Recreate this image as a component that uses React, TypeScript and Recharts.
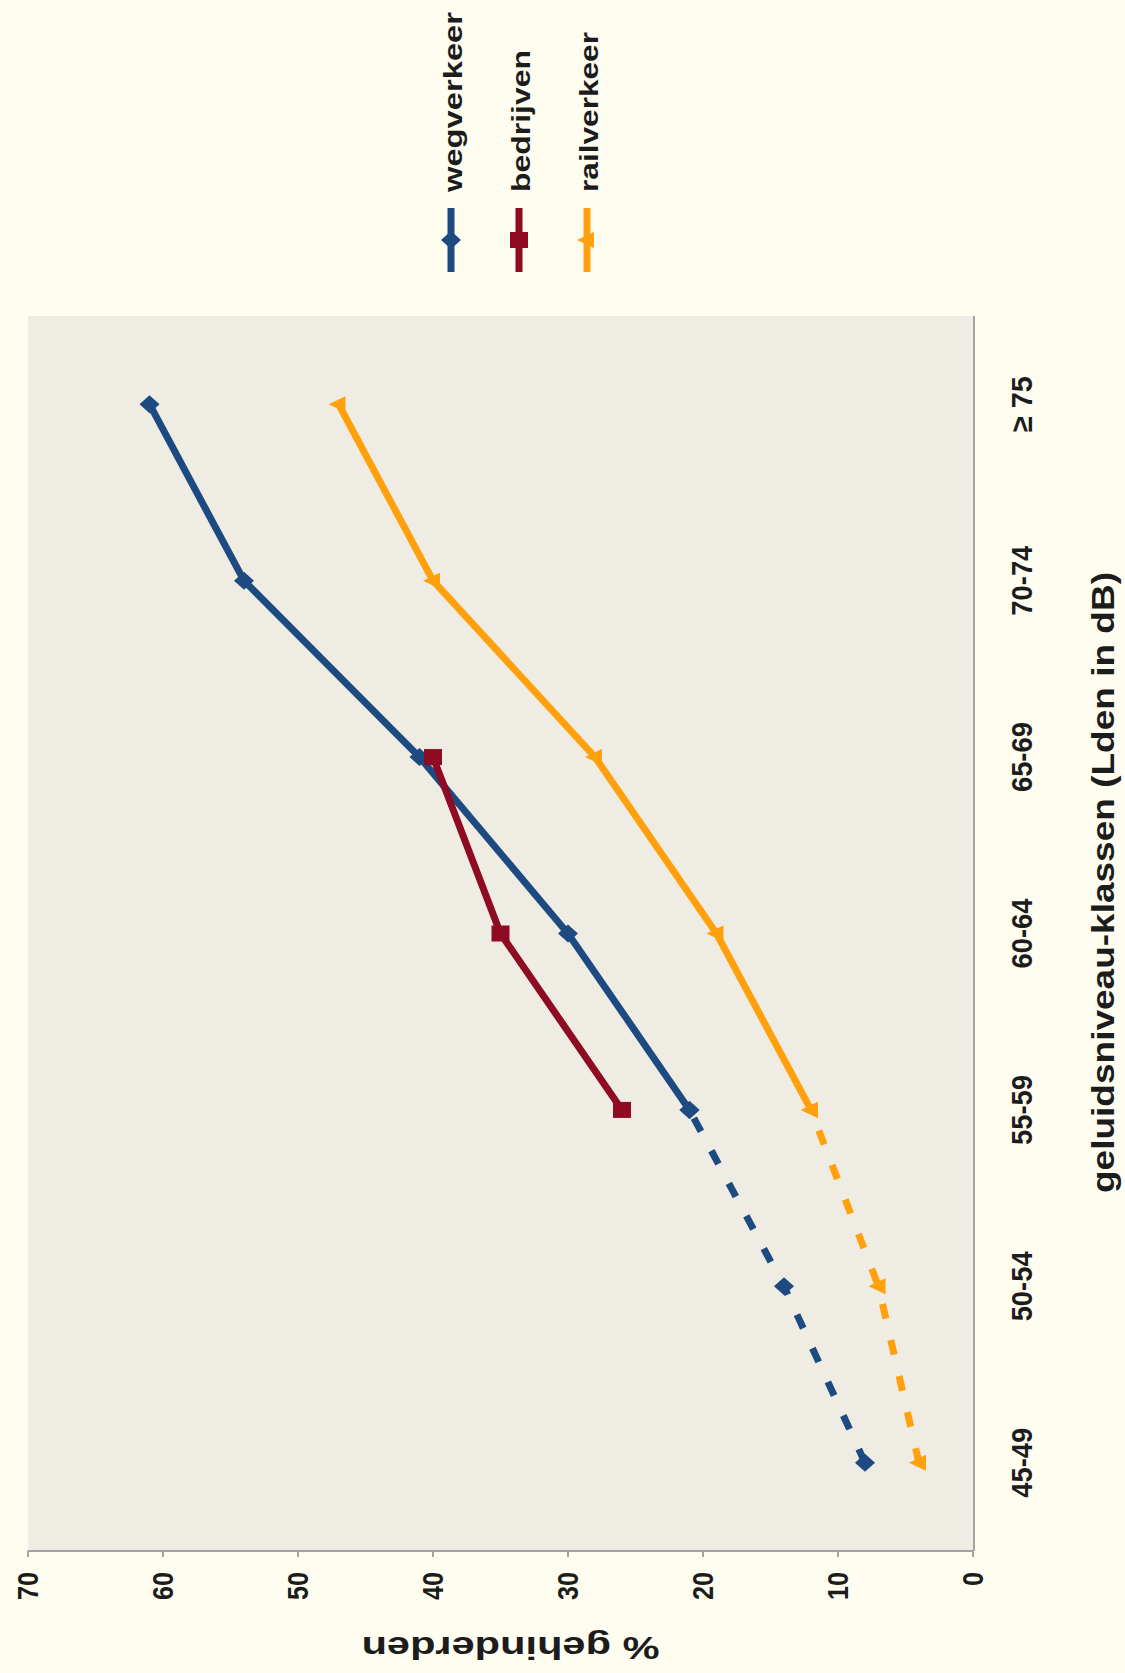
import React from 'react';
import { LineChart, Line, XAxis, YAxis, CartesianGrid, Legend, Label } from 'recharts';

// ---- data ----
const categories = ['45-49', '50-54', '55-59', '60-64', '65-69', '70-74', '≥ 75'];
const wegverkeer = [8, 14, 21, 30, 41, 54, 61];
const bedrijven: (number | null)[] = [null, null, 26, 35, 40, null, null];
const railverkeer = [4, 7, 12, 19, 28, 40, 47];
// last category of the dashed (extrapolated) part of the curves
const dashedUntil = '55-59';
const valueTicks = [0, 10, 20, 30, 40, 50, 60, 70];
const boundaryTicks = [0, 1, 2, 3, 4, 5, 6, 7];
const legendOrder = ['wegSolid', 'bedr', 'railSolid'];

const splitIdx = categories.indexOf(dashedUntil);
const data = categories.map((cat, i) => ({
  cat,
  wegDash: i <= splitIdx ? wegverkeer[i] : null,
  wegSolid: i >= splitIdx ? wegverkeer[i] : null,
  bedr: bedrijven[i],
  railDash: i <= splitIdx ? railverkeer[i] : null,
  railSolid: i >= splitIdx ? railverkeer[i] : null,
}));

// ---- layout / style ----
const W = 1673;
const H = 1125;
const MARGIN = { top: 28, right: 316, bottom: 150, left: 22 };
const Y_AXIS_W = 100;
const PLOT_W = W - MARGIN.left - Y_AXIS_W - MARGIN.right;
const BAND_PAD = PLOT_W / (categories.length * 2);

const FONT = "'Liberation Sans', Arial, sans-serif";
const PAGE_BG = '#FEFDF0';
const PLOT_BG = '#EEECE3';
const AXIS = '#A3A3A3';
const TEXT = '#1c1c1c';

const BLUE = '#1D4A80';
const RED = '#8E0B22';
const ORANGE = '#FFA00C';

const seriesStyle: Record<string, { color: string; shape: string; textLen: number }> = {
  wegSolid: { color: BLUE, shape: 'diamond', textLen: 180 },
  bedr: { color: RED, shape: 'square', textLen: 142 },
  railSolid: { color: ORANGE, shape: 'triangle', textLen: 160 },
};

function Marker({ shape, cx, cy, color }: { shape: string; cx: number; cy: number; color: string }) {
  if (shape === 'diamond') {
    return <polygon points={`${cx},${cy - 10} ${cx + 9},${cy} ${cx},${cy + 10} ${cx - 9},${cy}`} fill={color} />;
  }
  if (shape === 'square') {
    return <rect x={cx - 8} y={cy - 9} width={16} height={18} fill={color} />;
  }
  return <polygon points={`${cx},${cy - 10} ${cx + 8},${cy + 7} ${cx - 8},${cy + 7}`} fill={color} />;
}

const makeDot = (shape: string, color: string) => (p: any) => {
  if (p.cx == null || p.cy == null || p.value == null) return <g key={`d-${p.index}`} />;
  return (
    <g key={`d-${p.index}`}>
      <Marker shape={shape} cx={p.cx} cy={p.cy} color={color} />
    </g>
  );
};

const ValueTick = (props: any) => {
  const { x, y, payload } = props;
  const s = String(payload.value);
  return (
    <text x={x} y={y + 10} textAnchor="end" fontSize={30} fontWeight="bold" fontFamily={FONT} fill={TEXT}
      textLength={s.length * 14} lengthAdjust="spacingAndGlyphs">
      {s}
    </text>
  );
};

const CatTick = (props: any) => {
  const { x, y, payload } = props;
  const s = String(payload.value);
  return (
    <text x={x} y={y + 58} textAnchor="middle" fontSize={30} fontWeight="bold" fontFamily={FONT} fill={TEXT}
      textLength={s.length * 14} lengthAdjust="spacingAndGlyphs">
      {s}
    </text>
  );
};

const LegendContent = (props: any) => {
  const items = (props.payload || [])
    .filter((e: any) => seriesStyle[e.dataKey])
    .sort((a: any, b: any) => legendOrder.indexOf(a.dataKey) - legendOrder.indexOf(b.dataKey));
  return (
    <svg width={270} height={204} style={{ display: 'block' }}>
      {items.map((e: any, i: number) => {
        const st = seriesStyle[e.dataKey];
        const cy = 34 + i * 68;
        return (
          <g key={e.dataKey}>
            <line x1={6} x2={70} y1={cy} y2={cy} stroke={st.color} strokeWidth={7} />
            <Marker shape={st.shape} cx={38} cy={cy} color={st.color} />
            <text x={86} y={cy + 11} fontSize={26} fontWeight="bold" fontFamily={FONT} fill={TEXT}
              textLength={st.textLen} lengthAdjust="spacingAndGlyphs">
              {e.value}
            </text>
          </g>
        );
      })}
    </svg>
  );
};

export default function App() {
  return (
    <div style={{ position: 'absolute', left: 0, top: 0, width: H, height: W, overflow: 'hidden', background: PAGE_BG }}>
      <div
        style={{
          position: 'absolute', left: 0, top: 0, width: W, height: H,
          transformOrigin: '0 0', transform: `translate(0px, ${W}px) rotate(-90deg)`,
        }}
      >
        <LineChart width={W} height={H} data={data} margin={MARGIN}>
          <CartesianGrid xAxisId="cat" horizontal={false} vertical={false} fill={PLOT_BG} stroke="none" />
          <XAxis
            xAxisId="cat" dataKey="cat" type="category" height={1}
            padding={{ left: BAND_PAD, right: BAND_PAD }}
            axisLine={{ stroke: AXIS, strokeWidth: 2 }} tickLine={false} tickSize={0} tickMargin={0}
            tick={<CatTick />} interval={0}
          >
            <Label
              content={(p: any) => {
                const vb = p.viewBox || {};
                return (
                  <text x={vb.x + vb.width / 2 + 51} y={vb.y + 140} textAnchor="middle" fontSize={31}
                    fontWeight="bold" fontFamily={FONT} fill={TEXT} textLength={621} lengthAdjust="spacingAndGlyphs">
                    geluidsniveau-klassen (Lden in dB)
                  </text>
                );
              }}
            />
          </XAxis>
          <XAxis
            xAxisId="bound" type="number" domain={[0, boundaryTicks.length - 1]} ticks={boundaryTicks}
            allowDataOverflow height={1} axisLine={false} tick={false}
            tickLine={{ stroke: AXIS, strokeWidth: 2 }} tickSize={12}
          />
          <YAxis
            type="number" domain={[0, 70]} ticks={valueTicks} width={Y_AXIS_W} interval={0}
            axisLine={{ stroke: AXIS, strokeWidth: 2 }} tickLine={{ stroke: AXIS, strokeWidth: 2 }}
            tickSize={6} tickMargin={15} tick={<ValueTick />}
          >
            <Label
              content={(p: any) => {
                const vb = p.viewBox || {};
                const cx = vb.x + 14;
                const cy = vb.y + vb.height / 2 + 10;
                return (
                  <text x={cx} y={cy} transform={`rotate(-90 ${cx} ${cy})`} textAnchor="middle" fontSize={32}
                    fontWeight="bold" fontFamily={FONT} fill={TEXT} textLength={298} lengthAdjust="spacingAndGlyphs">
                    % gehinderden
                  </text>
                );
              }}
            />
          </YAxis>
          <Legend
            layout="vertical" align="center" verticalAlign="middle"
            content={<LegendContent />}
            wrapperStyle={{ position: 'absolute', left: 1395, top: 417, width: 270, height: 204 }}
          />
          <Line xAxisId="cat" dataKey="wegDash" legendType="none" stroke={BLUE} strokeWidth={7}
            strokeDasharray="15 22" dot={makeDot('diamond', BLUE)} activeDot={false} isAnimationActive={false} />
          <Line xAxisId="cat" dataKey="wegSolid" name="wegverkeer" stroke={BLUE} strokeWidth={7}
            dot={makeDot('diamond', BLUE)} activeDot={false} isAnimationActive={false} />
          <Line xAxisId="cat" dataKey="bedr" name="bedrijven" stroke={RED} strokeWidth={7}
            dot={makeDot('square', RED)} activeDot={false} isAnimationActive={false} />
          <Line xAxisId="cat" dataKey="railDash" legendType="none" stroke={ORANGE} strokeWidth={7}
            strokeDasharray="15 22" dot={makeDot('triangle', ORANGE)} activeDot={false} isAnimationActive={false} />
          <Line xAxisId="cat" dataKey="railSolid" name="railverkeer" stroke={ORANGE} strokeWidth={7}
            dot={makeDot('triangle', ORANGE)} activeDot={false} isAnimationActive={false} />
        </LineChart>
      </div>
    </div>
  );
}
